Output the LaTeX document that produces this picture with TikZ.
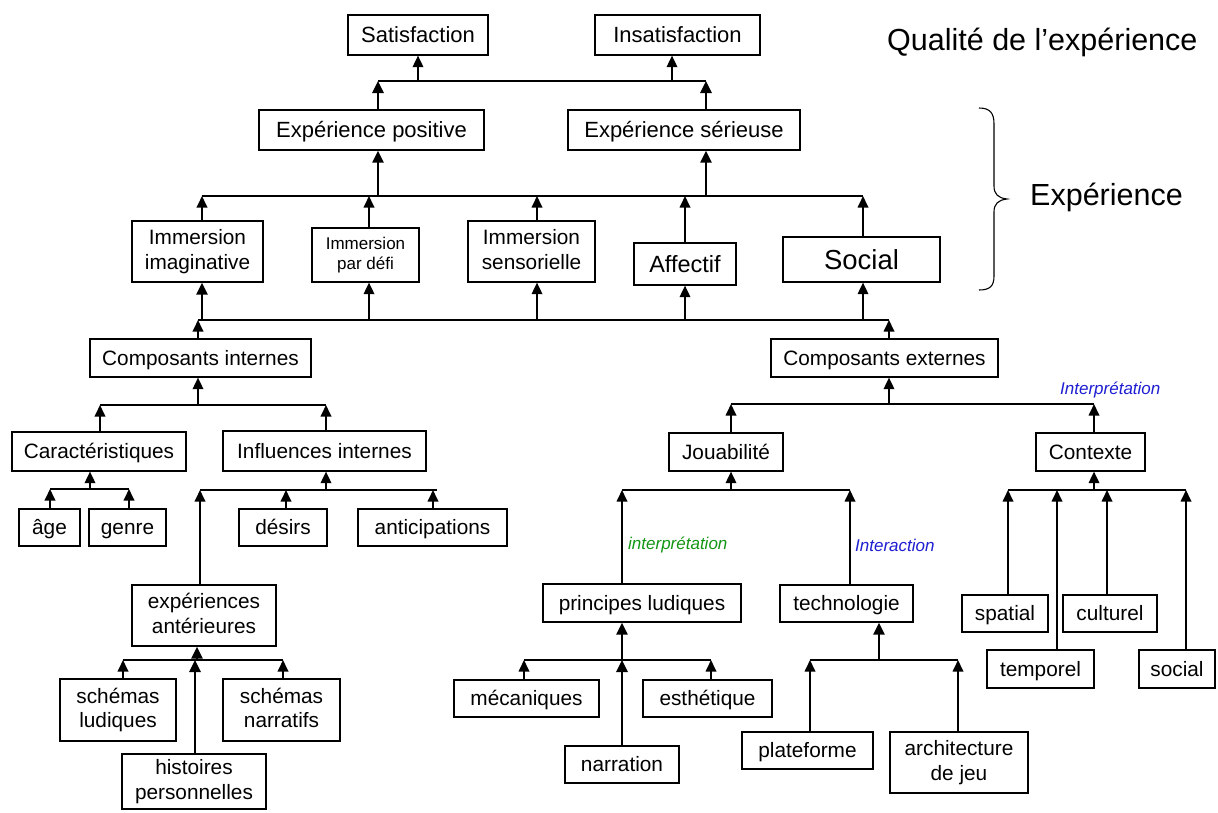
\documentclass[tikz,border=0pt]{standalone}
\usepackage{fontspec}
\setmainfont{Liberation Sans}
\usetikzlibrary{arrows.meta}
\definecolor{labgreen}{RGB}{20,150,20}
\definecolor{labblue}{RGB}{30,30,210}
\newcommand\ascS{\rule{0pt}{0.905em}}
\newcommand\descS{\rule[-0.212em]{0pt}{0.212em}}
\begin{document}
\begin{tikzpicture}[x=1pt,y=-1pt,
  box/.style={draw, line width=1.2pt, align=center, inner sep=0pt, font=\fontsize{20.8}{24.5}\selectfont,
    execute at begin node=\ascS, execute at end node=\descS},
  topbox/.style={box, font=\fontsize{22}{26}\selectfont},
  conn/.style={line width=1.5pt},
  arr/.style={line width=1.8pt, -{Triangle[width=10.5pt,length=11.5pt]}},
  tarr/.style={line width=2.6pt, -{Triangle[width=11pt,length=12pt]}},
  lab/.style={font=\fontsize{17}{20}\selectfont\itshape, anchor=west, inner sep=0pt},
  big/.style={font=\fontsize{30.5}{35}\selectfont, inner sep=0pt}]
\useasboundingbox (0,0) rectangle (1218,812);
\fill[white] (0,0) rectangle (1218,812);
% ---------- nodes ----------
\node[topbox, minimum width=140pt, minimum height=40pt] (sat) at (418,35) {Satisfaction};
\node[topbox, minimum width=165pt, minimum height=40pt] (insat) at (677.5,35) {Insatisfaction};
\node[big, anchor=west] (qual) at (887,42) {Qualité de l’expérience};
\node[topbox, minimum width=225pt, minimum height=40pt] (expos) at (371.5,130) {Expérience positive};
\node[topbox, minimum width=232pt, minimum height=40pt] (exser) at (684,130) {Expérience sérieuse};
\node[big, anchor=west] (expe) at (1030,197) {Expérience};
\node[box, minimum width=131pt, minimum height=61pt] (imag) at (197.5,251.5) {Immersion\\imaginative};
\node[box, minimum width=107pt, minimum height=54pt, font=\fontsize{17}{20}\selectfont] (defi) at (365.5,255) {Immersion\\par défi};
\node[box, minimum width=127pt, minimum height=61pt] (sens) at (531.5,251.5) {Immersion\\sensorielle};
\node[box, minimum width=102pt, minimum height=42pt, font=\fontsize{23.5}{27}\selectfont] (affectif) at (685,264) {Affectif};
\node[box, minimum width=157pt, minimum height=45pt, font=\fontsize{27.5}{32}\selectfont] (social) at (861.5,259.5) {Social};
\node[box, minimum width=221pt, minimum height=38pt] (compint) at (200.5,358) {Composants internes};
\node[box, minimum width=227pt, minimum height=38pt] (compext) at (884.5,358) {Composants externes};
\node[box, minimum width=174pt, minimum height=39pt] (caract) at (99,451.5) {Caractéristiques};
\node[box, minimum width=203pt, minimum height=40pt] (influ) at (324.5,451) {Influences internes};
\node[box, minimum width=61pt, minimum height=37pt] (age) at (49.5,527.5) {âge};
\node[box, minimum width=77pt, minimum height=37pt] (genre) at (127.5,527.5) {genre};
\node[box, minimum width=88pt, minimum height=37pt] (desirs) at (283,527.5) {désirs};
\node[box, minimum width=149pt, minimum height=37pt] (antic) at (432.5,527.5) {anticipations};
\node[box, minimum width=144pt, minimum height=61pt] (expant) at (204,615.5) {expériences\\antérieures};
\node[box, minimum width=116pt, minimum height=62pt] (schlud) at (118,710) {schémas\\ludiques};
\node[box, minimum width=117pt, minimum height=62pt] (schnar) at (281.5,710) {schémas\\narratifs};
\node[box, minimum width=144pt, minimum height=55pt] (hist) at (194,781.5) {histoires\\personnelles};
\node[box, minimum width=114pt, minimum height=38pt] (joua) at (726,452) {Jouabilité};
\node[box, minimum width=109pt, minimum height=38pt] (contexte) at (1090.5,452) {Contexte};
\node[box, minimum width=198pt, minimum height=38pt] (princ) at (642,603) {principes ludiques};
\node[box, minimum width=133pt, minimum height=37pt] (techno) at (846.5,603.5) {technologie};
\node[box, minimum width=145pt, minimum height=37pt] (meca) at (526.5,698.5) {mécaniques};
\node[box, minimum width=129pt, minimum height=37pt] (esth) at (707.5,698.5) {esthétique};
\node[box, minimum width=114pt, minimum height=37pt] (narr) at (622,764.5) {narration};
\node[box, minimum width=131pt, minimum height=37pt] (plat) at (807.5,750.5) {plateforme};
\node[box, minimum width=138pt, minimum height=61pt] (archi) at (959,762.5) {architecture\\de jeu};
\node[box, minimum width=86pt, minimum height=37pt] (spatial) at (1005,613.5) {spatial};
\node[box, minimum width=94pt, minimum height=37pt] (culturel) at (1110,613.5) {culturel};
\node[box, minimum width=107pt, minimum height=38pt] (temporel) at (1040.5,669) {temporel};
\node[box, minimum width=76pt, minimum height=38pt] (socialc) at (1177,669) {social};
% labels
\node[lab, text=labgreen] (linterp) at (628,545) {interprétation};
\node[lab, text=labblue] (linter) at (855,545) {Interaction};
\node[lab, text=labblue] (lInterp) at (1060,390) {Interprétation};
% brace
\draw[line width=1.1pt] (979,108) .. controls (990,108) and (994,113) .. (994,124) -- (994,186)
  .. controls (994,194) and (998,198) .. (1007,199) .. controls (998,200) and (994,204) .. (994,212)
  -- (994,276) .. controls (994,286) and (990,290) .. (979,290);
% ---------- junction points ----------
\coordinate (j1a) at (378,81); \coordinate (j1b) at (418,81); \coordinate (j1c) at (672,81); \coordinate (j1d) at (706,81);
\coordinate (j2a) at (202,196); \coordinate (j2b) at (369,196); \coordinate (j2c) at (537,196);
\coordinate (j2d) at (685,196); \coordinate (j2e) at (863,196); \coordinate (j2p) at (378,196); \coordinate (j2s) at (706,196);
\coordinate (j3i) at (198,320); \coordinate (j3a) at (202,320); \coordinate (j3b) at (369,320); \coordinate (j3c) at (537,320);
\coordinate (j3d) at (685,320); \coordinate (j3e) at (863,320); \coordinate (j3x) at (889,320);
\coordinate (j4j) at (731,404); \coordinate (j4x) at (889,404); \coordinate (j4c) at (1094,404);
\coordinate (j5c) at (100,405); \coordinate (j5i) at (198,405); \coordinate (j5f) at (326,405);
\coordinate (j6a) at (50,489); \coordinate (j6c) at (90,489); \coordinate (j6g) at (129,489);
\coordinate (j7e) at (200,490); \coordinate (j7d) at (286,490); \coordinate (j7f) at (326,490); \coordinate (j7a) at (433,490); \coordinate (j7z) at (437,490);
\coordinate (j8l) at (123,660); \coordinate (j8h) at (195,660); \coordinate (j8e) at (197,660); \coordinate (j8n) at (283,660);
\coordinate (j9p) at (622,490); \coordinate (j9j) at (731,490); \coordinate (j9t) at (850,490);
\coordinate (j10s) at (1008,490); \coordinate (j10t) at (1057,490); \coordinate (j10x) at (1094,490); \coordinate (j10c) at (1107,490); \coordinate (j10o) at (1186,490);
\coordinate (j11m) at (524,660); \coordinate (j11p) at (622,660); \coordinate (j11e) at (711,660);
\coordinate (j12p) at (810,660); \coordinate (j12t) at (879,660); \coordinate (j12a) at (958,660);
% ---------- junction lines ----------
\draw[conn] (j1a) -- (j1d);
\draw[conn] (j2a) -- (j2e);
\draw[conn] (j3i) -- (j3x);
\draw[conn] (j4j) -- (j4c);
\draw[conn] (j5c) -- (j5f);
\draw[conn] (j6a) -- (j6g);
\draw[conn] (j7e) -- (j7z);
\draw[conn] (j8l) -- (j8n);
\draw[conn] (j9p) -- (j9t);
\draw[conn] (j10s) -- (j10o);
\draw[conn] (j11m) -- (j11e);
\draw[conn] (j12p) -- (j12a);
% ---------- arrows ----------
\draw[tarr] (expos.north -| j1a) -- (j1a);
\draw[tarr] (exser.north -| j1d) -- (j1d);
\draw[arr] (j1b) -- (sat.south -| j1b);
\draw[arr] (j1c) -- (insat.south -| j1c);
\draw[tarr] (j2p) -- (expos.south -| j2p);
\draw[tarr] (j2s) -- (exser.south -| j2s);
\draw[arr] (imag.north -| j2a) -- (j2a);
\draw[arr] (defi.north -| j2b) -- (j2b);
\draw[arr] (sens.north -| j2c) -- (j2c);
\draw[arr] (affectif.north -| j2d) -- (j2d);
\draw[arr] (social.north -| j2e) -- (j2e);
\draw[tarr] (j3a) -- (imag.south -| j3a);
\draw[arr] (j3b) -- (defi.south -| j3b);
\draw[arr] (j3c) -- (sens.south -| j3c);
\draw[arr] (j3d) -- (affectif.south -| j3d);
\draw[arr] (j3e) -- (social.south -| j3e);
\draw[arr] (compint.north -| j3i) -- (j3i);
\draw[arr] (compext.north -| j3x) -- (j3x);
\draw[arr] (j4x) -- (compext.south -| j4x);
\draw[arr] (joua.north -| j4j) -- (j4j);
\draw[arr] (contexte.north -| j4c) -- (j4c);
\draw[arr] (j5i) -- (compint.south -| j5i);
\draw[arr] (caract.north -| j5c) -- (j5c);
\draw[arr] (influ.north -| j5f) -- (j5f);
\draw[arr] (j6c) -- (caract.south -| j6c);
\draw[arr] (age.north -| j6a) -- (j6a);
\draw[arr] (genre.north -| j6g) -- (j6g);
\draw[arr] (j7f) -- (influ.south -| j7f);
\draw[arr] (expant.north -| j7e) -- (j7e);
\draw[arr] (desirs.north -| j7d) -- (j7d);
\draw[arr] (antic.north -| j7a) -- (j7a);
\draw[tarr] (j8e) -- (expant.south -| j8e);
\draw[arr] (schlud.north -| j8l) -- (j8l);
\draw[arr] (schnar.north -| j8n) -- (j8n);
\draw[tarr] (hist.north -| j8h) -- (j8h);
\draw[arr] (j9j) -- (joua.south -| j9j);
\draw[arr] (princ.north -| j9p) -- (j9p);
\draw[arr] (techno.north -| j9t) -- (j9t);
\draw[arr] (j10x) -- (contexte.south -| j10x);
\draw[arr] (spatial.north -| j10s) -- (j10s);
\draw[arr] (temporel.north -| j10t) -- (j10t);
\draw[arr] (culturel.north -| j10c) -- (j10c);
\draw[arr] (socialc.north -| j10o) -- (j10o);
\draw[tarr] (j11p) -- (princ.south -| j11p);
\draw[arr] (meca.north -| j11m) -- (j11m);
\draw[arr] (esth.north -| j11e) -- (j11e);
\draw[tarr] (narr.north -| j11p) -- (j11p);
\draw[tarr] (j12t) -- (techno.south -| j12t);
\draw[arr] (plat.north -| j12p) -- (j12p);
\draw[arr] (archi.north -| j12a) -- (j12a);
\end{tikzpicture}
\end{document}
